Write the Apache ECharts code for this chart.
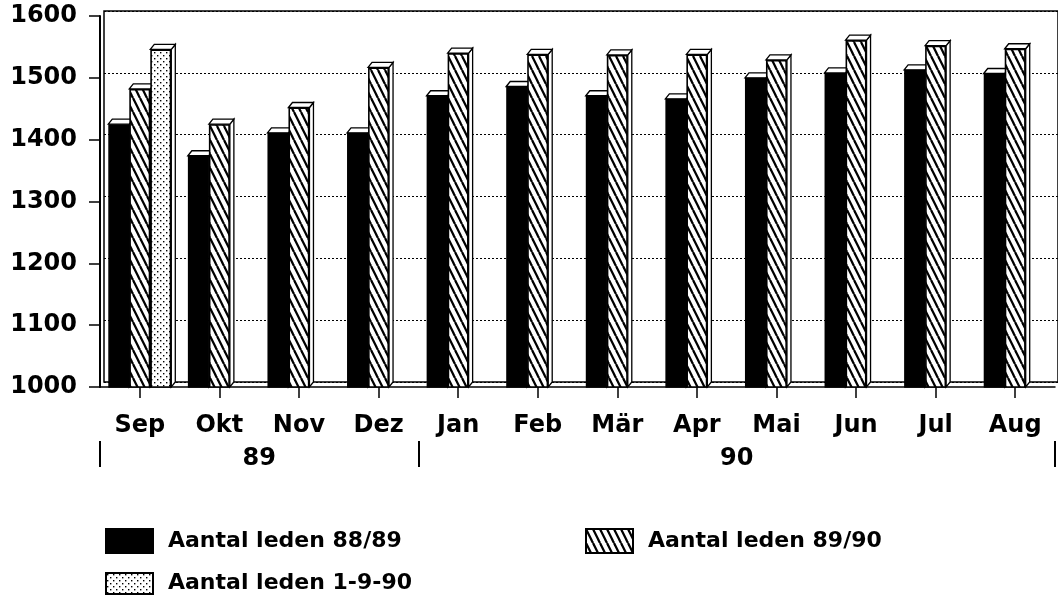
<!DOCTYPE html>
<html>
<head>
<meta charset="utf-8">
<script src="https://cdn.jsdelivr.net/npm/echarts@6/dist/echarts.min.js"></script>
<style>
html,body{margin:0;padding:0;background:#fff;}
#chart{width:1058px;height:596px;}
</style>
</head>
<body>
<div id="chart"></div>
<script>
// ---- data ----
const months = ['Sep','Okt','Nov','Dez','Jan','Feb','Mär','Apr','Mai','Jun','Jul','Aug'];
const leden8889 = [1425,1374,1411,1411,1471,1486,1471,1466,1500,1508,1513,1507];
const leden8990 = [1482,1425,1452,1517,1540,1538,1537,1538,1529,1561,1552,1547];
const leden1990 = [1546,null,null,null,null,null,null,null,null,null,null,null];
const seriesNames = ['Aantal leden 88/89','Aantal leden 89/90','Aantal leden 1-9-90'];
const years = ['89','90'];
const yearMonthCounts = [4,8];
const yMin = 1000, yMax = 1600, yStep = 100;

// ---- styles ----
const FONT = 'DejaVu Sans';
const BAR_W = 21;
const DX = 4, DY = 5;

function hatchPattern(){
  const w = 7, h = 14;
  const c = document.createElement('canvas');
  c.width = w; c.height = h;
  const g = c.getContext('2d');
  g.fillStyle = '#fff'; g.fillRect(0,0,w,h);
  g.strokeStyle = '#000'; g.lineWidth = 2.3;
  for (let k = -1; k <= 1; k++) {
    g.beginPath(); g.moveTo(k*w, 0); g.lineTo(k*w + w, h); g.stroke();
  }
  return {image: c, repeat: 'repeat'};
}
function dotPattern(){
  const s = 6;
  const c = document.createElement('canvas');
  c.width = s; c.height = s;
  const g = c.getContext('2d');
  g.fillStyle = '#fff'; g.fillRect(0,0,s,s);
  g.fillStyle = '#000';
  g.fillRect(1,1,1.4,1.4);
  g.fillRect(4,4,1.4,1.4);
  return {image: c, repeat: 'repeat'};
}
const fills = ['#000', hatchPattern(), dotPattern()];
const allSeries = [leden8889, leden8990, leden1990];

// year axis helpers
const yearBounds = [0];
yearMonthCounts.forEach(n => yearBounds.push(yearBounds[yearBounds.length-1] + n));
const yearCenters = years.map((y,i) => (yearBounds[i] + yearBounds[i+1]) / 2);

// 3D decoration data built from the series arrays
const deco = [];
allSeries.forEach((arr, s) => arr.forEach((v, i) => { if (v != null) deco.push([i, v, s]); }));

const chart = echarts.init(document.getElementById('chart'), null, {renderer: 'canvas'});

const barSeries = allSeries.map((arr, s) => ({
  name: seriesNames[s],
  type: 'bar',
  xAxisIndex: 0, yAxisIndex: 0,
  data: arr.map(v => v == null ? '-' : v),
  barWidth: BAR_W,
  barGap: '0%',
  z: 3,
  itemStyle: {color: fills[s], borderColor: '#000', borderWidth: 1.6},
  emphasis: {disabled: true},
  animation: false
}));

const option = {
  animation: false,
  backgroundColor: '#fff',
  textStyle: {fontFamily: FONT},
  grid: [
    {left: 100, right: 3, top: 16, bottom: 209, show: false},
    {left: 104, right: -3, top: 11, bottom: 214, show: true, borderColor: '#000', borderWidth: 1.5, backgroundColor: 'transparent'}
  ],
  xAxis: [
    {
      type: 'category', gridIndex: 0, data: months,
      axisLine: {show: true, lineStyle: {color: '#000', width: 1.5}},
      axisTick: {show: true, alignWithLabel: true, length: 11, lineStyle: {color: '#000', width: 1.5}},
      axisLabel: {color: '#000', fontFamily: FONT, fontWeight: 'bold', fontSize: 24, margin: 27, interval: 0}
    },
    {
      type: 'category', gridIndex: 1, data: months, show: false
    },
    {
      type: 'value', gridIndex: 0, min: 0, max: yearBounds[yearBounds.length-1],
      position: 'bottom', offset: 54,
      axisLine: {show: false},
      splitLine: {show: false},
      axisTick: {show: true, customValues: yearBounds, length: 26, lineStyle: {color: '#000', width: 2}},
      axisLabel: {
        show: true, customValues: yearCenters, margin: 6,
        color: '#000', fontFamily: FONT, fontWeight: 'bold', fontSize: 24,
        formatter: v => { const i = yearCenters.indexOf(v); return i >= 0 ? years[i] : ''; }
      }
    }
  ],
  yAxis: [
    {
      type: 'value', gridIndex: 0, min: yMin, max: yMax, interval: yStep,
      axisLine: {show: true, lineStyle: {color: '#000', width: 2}},
      axisTick: {show: true, length: 11, lineStyle: {color: '#000', width: 1.5}},
      splitLine: {show: false},
      axisLabel: {color: '#000', fontFamily: FONT, fontWeight: 'bold', fontSize: 24, margin: 23, padding: [6,0,0,0],
        formatter: v => String(v)}
    },
    {
      type: 'value', gridIndex: 1, min: yMin, max: yMax, interval: yStep,
      axisLine: {show: false}, axisTick: {show: false}, axisLabel: {show: false},
      splitLine: {show: true, lineStyle: {color: '#000', width: 1, type: [2, 2]}}
    }
  ],
  legend: [0,1,2].map(s => ({
    data: [seriesNames[s]],
    left: [100, 580, 100][s],
    top: [523, 523, 567][s],
    itemWidth: 47,
    itemHeight: [24, 24, 21][s],
    selectedMode: false,
    icon: 'rect',
    textStyle: {color: '#000', fontFamily: FONT, fontWeight: 'bold', fontSize: 22, padding: [0,0,0,10]}
  })),
  series: [
    {
      type: 'custom',
      xAxisIndex: 0, yAxisIndex: 0,
      z: 2,
      silent: true,
      data: deco,
      renderItem: function(params, api){
        const i = api.value(0), v = api.value(1), s = api.value(2);
        const top = api.coord([i, v]);
        const base = api.coord([i, yMin])[1];
        const cx = top[0] + (s - 1) * BAR_W;
        const x0 = cx - BAR_W/2, x1 = cx + BAR_W/2, y = top[1];
        const st = {fill: '#fff', stroke: '#000', lineWidth: 1.3};
        return {
          type: 'group',
          children: [
            {type: 'polygon', shape: {points: [[x1,y],[x1+DX,y-DY],[x1+DX,base-DY],[x1,base]]}, style: st},
            {type: 'polygon', shape: {points: [[x0,y],[x0+DX,y-DY],[x1+DX,y-DY],[x1,y]]}, style: st}
          ]
        };
      }
    }
  ].concat(barSeries)
};
chart.setOption(option);
</script>
</body>
</html>
